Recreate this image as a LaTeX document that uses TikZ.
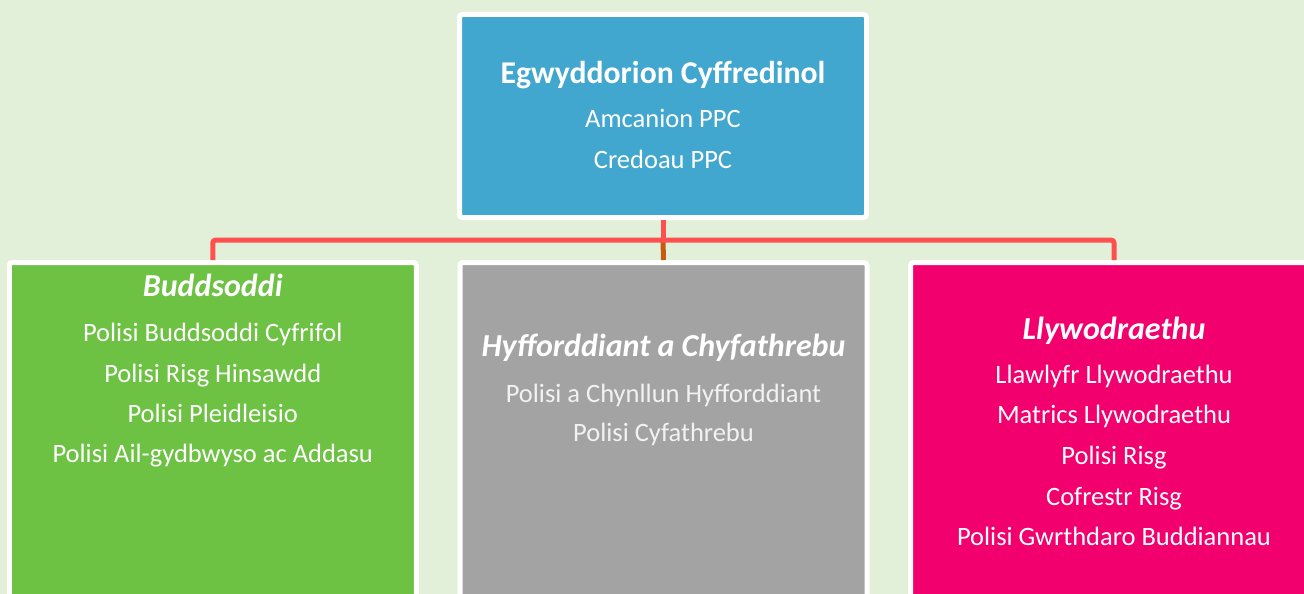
\documentclass[tikz,border=0pt]{standalone}
\usepackage{fontspec}
\setmainfont{Carlito}

\definecolor{bgcol}{HTML}{E2F0D9}
\definecolor{topblue}{HTML}{41A7CE}
\definecolor{invgreen}{HTML}{6DC143}
\definecolor{traingray}{HTML}{A3A3A3}
\definecolor{govpink}{HTML}{F2006E}
\definecolor{linkred}{HTML}{FF5050}
\definecolor{stemorange}{HTML}{C55A11}

\tikzset{
  box/.style={draw=white, line width=5pt, rounded corners=3pt, minimum width=407pt, anchor=north},
  head/.style={anchor=base, text=white, font=\fontsize{32}{38}\selectfont\bfseries\itshape},
  body/.style={anchor=base, text=white, font=\fontsize{26.5}{32}\selectfont},
  link/.style={linkred, line width=5pt},
  stem/.style={stemorange, line width=5pt}
}

\begin{document}
\begin{tikzpicture}[x=1pt, y=-1pt]
    \useasboundingbox (0,0) rectangle (1304,594);
    \clip (0,0) rectangle (1304,594);
    \fill[bgcol] (0,0) rectangle (1304,594);

    % boxes
    \node[box, fill=topblue, minimum height=203pt] (top) at (663,12) {};
    \node[box, fill=invgreen, minimum height=400pt] (green) at (212.75,260) {};
    \node[box, fill=traingray, minimum height=400pt] (gray) at (663.5,260) {};
    \node[box, fill=govpink, minimum height=400pt] (pink) at (1114,260) {};

    % connectors
    \coordinate (bar) at (663,240);
    \draw[stem] (bar) -- (gray.north);
    \draw[link] (top.south) -- (bar);
    \draw[link, rounded corners=3pt] (green.north) |- (bar) -| (pink.north);

    % top box
    \node[anchor=base, text=white, font=\fontsize{31.7}{38}\selectfont\bfseries] (toptitle) at (663,83.3) {Egwyddorion Cyffredinol};
    \foreach \t [count=\i] in {Amcanion PPC, Credoau PPC}
        \node[body] (top-\i) at (663,{127.3+41*(\i-1)}) {\t};

    % Buddsoddi
    \node[head] (greenhead) at (212.75,296) {Buddsoddi};
    \foreach \t [count=\i] in {Polisi Buddsoddi Cyfrifol, Polisi Risg Hinsawdd, Polisi Pleidleisio, Polisi Ail-gydbwyso ac Addasu}
        \node[body] (green-\i) at (212.75,{341.7+40.4*(\i-1)}) {\t};

    % Hyfforddiant
    \node[head] (grayhead) at (663.5,356) {Hyfforddiant a Chyfathrebu};
    \foreach \t [count=\i] in {Polisi a Chynllun Hyfforddiant, Polisi Cyfathrebu}
        \node[body, text=white!95!black] (gray-\i) at (663.5,{402.7+39*(\i-1)}) {\t};

    % Llywodraethu
    \node[head] (pinkhead) at (1114,339.3) {Llywodraethu};
    \foreach \t [count=\i] in {Llawlyfr Llywodraethu, Matrics Llywodraethu, Polisi Risg, Cofrestr Risg, Polisi Gwrthdaro Buddiannau}
        \node[body] (pink-\i) at (1114,{383.3+40.6*(\i-1)}) {\t};
\end{tikzpicture}
\end{document}
